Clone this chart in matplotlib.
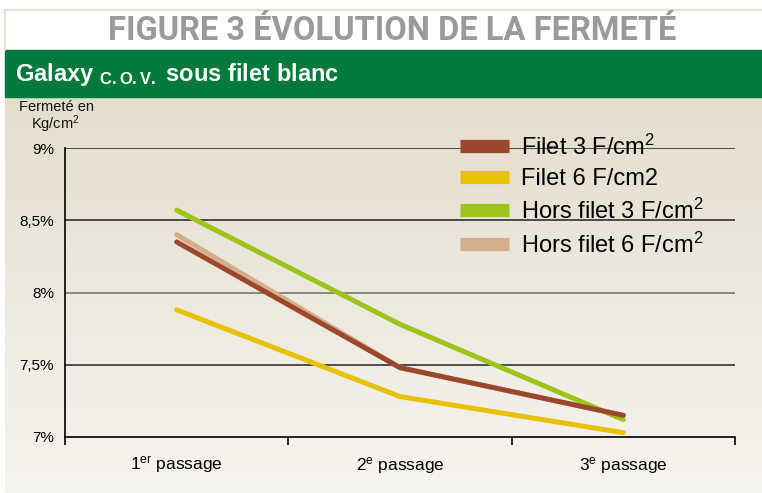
import numpy as np
import matplotlib
matplotlib.use("Agg")
import matplotlib.pyplot as plt
from matplotlib.lines import Line2D
from matplotlib.patches import Rectangle

plt.rcParams['font.family'] = ['Liberation Sans Narrow', 'Liberation Sans', 'DejaVu Sans']
plt.rcParams['mathtext.default'] = 'regular'

# data
passages = [r'1$^{er}$ passage', r'2$^{e}$ passage', r'3$^{e}$ passage']
filet_3 = [8.35, 7.48, 7.15]
filet_6 = [7.88, 7.28, 7.03]
hors_3 = [8.57, 7.78, 7.12]
hors_6 = [8.40, 7.48, 7.15]
y_ticks = [7, 7.5, 8, 8.5, 9]
y_labels = ['7%', '7,5%', '8%', '8,5%', '9%']
series_names = [r'Filet 3 F/cm$^{2}$', 'Filet 6 F/cm2',
                r'Hors filet 3 F/cm$^{2}$', r'Hors filet 6 F/cm$^{2}$']

c_brown = '#9c462c'
c_yellow = '#e8c100'
c_green = '#9dc41a'
c_tan = '#d3ad8c'

W, H = 762, 493
fig = plt.figure(figsize=(W / 100, H / 100), dpi=100)
fig.patch.set_facecolor('white')

# background: header, green band, beige gradient
bg = fig.add_axes([0, 0, 1, 1], zorder=-5)
bg.set_xlim(0, W)
bg.set_ylim(H, 0)
bg.axis('off')
grad = np.linspace(0, 1, 256).reshape(-1, 1)
top = np.array([0.890, 0.868, 0.800])
bot = np.array([0.965, 0.957, 0.937])
img = top + (bot - top) * grad[..., None]
img = img.reshape(256, 1, 3)
bg.imshow(img, extent=[5, W, H, 97], aspect='auto', zorder=0)
bg.add_patch(Rectangle((5, 50), W - 5, 47, color='#007a3c', zorder=1))
bg.plot([5, 5], [10, 50], color='#e3dccb', lw=1.2)
bg.plot([5, W], [10, 10], color='#e3dccb', lw=1.2)
bg.text(392, 31, 'FIGURE 3 ÉVOLUTION DE LA FERMETÉ', ha='center', va='center',
        fontsize=23.5, fontweight='bold', color='#9a9a9a', family='Roboto')
bg.text(15, 75, r'Galaxy $_{C.O.V.}$ sous filet blanc', ha='left', va='center',
        fontsize=17, fontweight='bold', color='white')
bg.text(19, 100, 'Fermeté en', ha='left', va='top', fontsize=10.5, color='#111111')
bg.text(31, 113, r'Kg/cm$^{2}$', ha='left', va='top', fontsize=10.5, color='#111111')

ax = fig.add_axes([65 / W, 1 - 437 / H, 670 / W, 289 / H])
ax.set_facecolor('none')
x = np.arange(len(passages))
ax.set_xlim(-0.5, len(passages) - 0.5)
ax.set_ylim(7, 9)

for yv in [7.5, 8, 8.5, 9]:
    ax.axhline(yv, color='#6e6e66' if yv == 8 else '#222222', lw=1.1, zorder=1)

ax.plot(x, hors_6, color=c_tan, lw=3.6, solid_capstyle='round', zorder=3)
ax.plot(x, hors_3, color=c_green, lw=3.6, solid_capstyle='round', zorder=4)
ax.plot(x, filet_6, color=c_yellow, lw=3.6, solid_capstyle='round', zorder=4)
ax.plot(x, filet_3, color=c_brown, lw=3.6, solid_capstyle='round', zorder=5)

for s in ['top', 'right']:
    ax.spines[s].set_visible(False)
ax.spines['left'].set_linewidth(1.2)
ax.spines['bottom'].set_linewidth(1.2)
ax.set_yticks(y_ticks)
ax.set_yticklabels(y_labels, fontsize=11)
ax.tick_params(axis='y', length=0, pad=8)
ax.set_xticks(np.arange(len(passages) + 1) - 0.5)
ax.set_xticklabels([])
ax.set_xticks(x, minor=True)
ax.set_xticklabels(passages, minor=True, fontsize=12.5)
ax.tick_params(axis='x', which='major', length=6, width=1.2, direction='out')
ax.tick_params(axis='x', which='minor', length=0, pad=13)

handles = [Line2D([], [], color=c, lw=9.5, solid_capstyle='butt')
           for c in [c_brown, c_yellow, c_green, c_tan]]
leg = ax.legend(handles, series_names, loc='upper left', bbox_to_anchor=(0.575, 1.08),
                frameon=False, fontsize=17, handlelength=2.1, handletextpad=0.5,
                labelspacing=0.36, borderaxespad=0)

fig.savefig('out.png', dpi=100, facecolor=fig.get_facecolor())
